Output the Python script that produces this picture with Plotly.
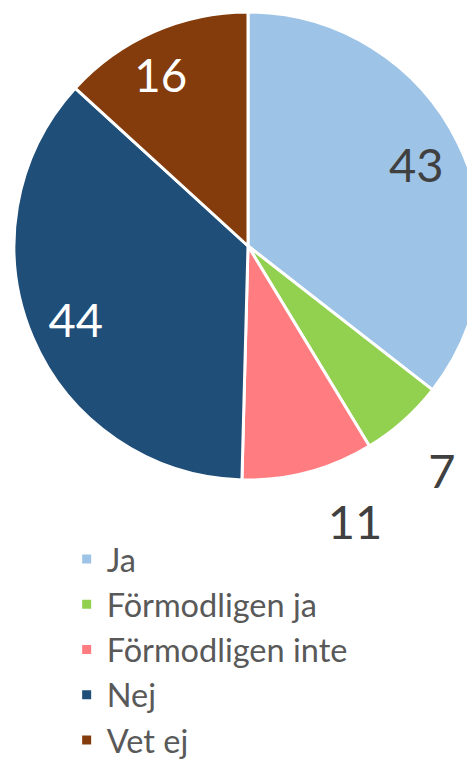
import plotly.graph_objects as go

labels = ["Ja", "Förmodligen ja", "Förmodligen inte", "Nej", "Vet ej"]
values = [43, 7, 11, 44, 16]
colors = ["#9DC3E6", "#92D050", "#FF7C80", "#1F4E79", "#843C0C"]
text_positions = ["inside", "outside", "outside", "inside", "inside"]
text_colors = ["#404040", "#404040", "#404040", "#FFFFFF", "#FFFFFF"]

W, H = 475, 761
LABEL_SIZE = 47
# pie geometry (page is offset by the browser's default body margin)
dom_x = [6 / W, 474 / W]
dom_y = [1 - 472 / H, 1 - 4 / H]

# outside labels sit a little further from the rim in the original:
# a small leading spacer line pushes them outward
spacer_sizes = [LABEL_SIZE, 39, 30, LABEL_SIZE, LABEL_SIZE]
# trailing blanks nudge an inside label sideways within its slice
trailing_blanks = [0, 0, 0, 0, 2]


def template(pos, blanks):
    if pos == "inside":
        return "%{value}" + "&nbsp;" * blanks
    return "&nbsp;<br><span style='font-size:%dpx'>%%{value}</span>" % LABEL_SIZE


def label_trace(keep):
    """Invisible ring carrying the value labels of the slices listed in keep."""
    pos = [p if i in keep else "none" for i, p in enumerate(text_positions)]
    return go.Pie(
        labels=labels,
        values=values,
        sort=False,
        direction="clockwise",
        rotation=0,
        hole=0.6,
        marker=dict(colors=["rgba(0,0,0,0)"] * len(labels), line=dict(width=0)),
        texttemplate=[template(p, b) for p, b in zip(text_positions, trailing_blanks)],
        textposition=pos,
        insidetextorientation="horizontal",
        insidetextfont=dict(color=text_colors, size=LABEL_SIZE, family="Lato"),
        outsidetextfont=dict(color="#404040", size=spacer_sizes, family="Lato"),
        domain=dict(x=dom_x, y=dom_y),
        showlegend=False,
        hoverinfo="skip",
    )


fig = go.Figure()
# coloured slices
fig.add_trace(go.Pie(
    labels=labels,
    values=values,
    sort=False,
    direction="clockwise",
    rotation=0,
    marker=dict(colors=colors, line=dict(color="white", width=3)),
    textinfo="none",
    domain=dict(x=dom_x, y=dom_y),
    hoverinfo="label+value",
))
# labels split over two traces so the two outside labels are placed independently
fig.add_trace(label_trace({0, 1, 3, 4}))
fig.add_trace(label_trace({2}))

fig.update_layout(
    width=W,
    height=H,
    margin=dict(l=0, r=0, t=0, b=0, autoexpand=False),
    paper_bgcolor="white",
    font=dict(family="Lato", color="#595959", size=32.5),
    legend=dict(
        x=0.1235, y=0.3123, xanchor="left", yanchor="top",
        bgcolor="rgba(0,0,0,0)",
        font=dict(size=32.5, color="#595959", family="Lato"),
        tracegroupgap=0,
    ),
    showlegend=True,
)

fig.write_html("out.html")
